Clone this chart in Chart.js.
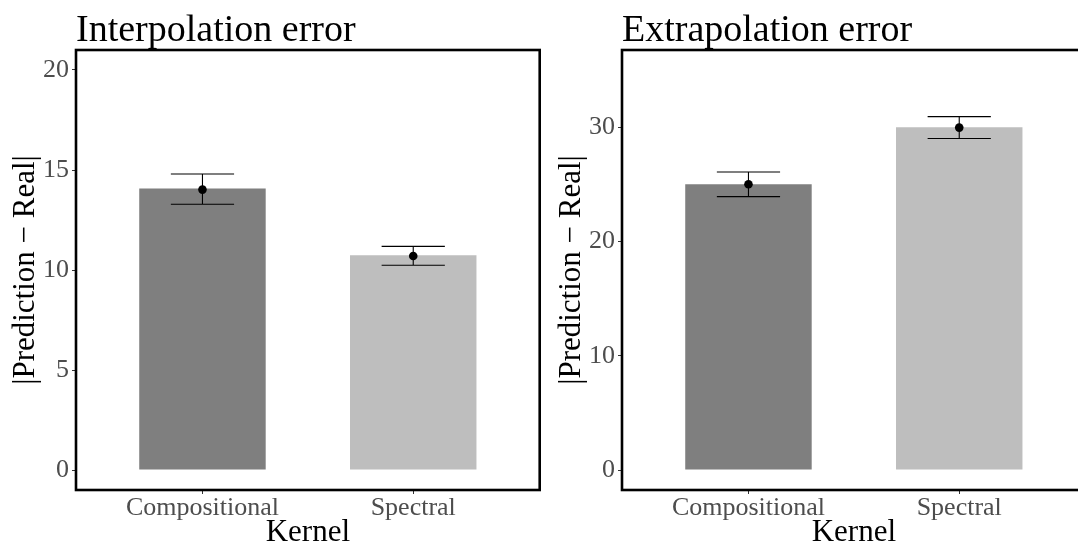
<!DOCTYPE html>
<html><head><meta charset="utf-8">
<script src="https://cdn.jsdelivr.net/npm/chart.js@4.4.1/dist/chart.umd.min.js"></script>
<style>
html,body{margin:0;padding:0;background:#fff;overflow:hidden;width:1078px;height:542px;}
.panel{position:absolute;top:0;}
#p1{left:0;} #p2{left:546px;}
</style></head><body>
<div class="panel" id="p1"><canvas id="c1" width="544" height="560"></canvas></div>
<div class="panel" id="p2"><canvas id="c2" width="544" height="560"></canvas></div>
<script>
// ---- data ----
const categories = ['Compositional', 'Spectral'];
const barColors = ['#7f7f7f', '#bebebe'];

const interpBars  = [14.07, 10.74];
const interpMeans = [14.02, 10.70];
const interpLow   = [13.29, 10.24];
const interpHigh  = [14.80, 11.18];
const interpTicks = [0, 5, 10, 15, 20];

const extrapBars  = [25.00, 29.98];
const extrapMeans = [25.00, 29.96];
const extrapLow   = [23.92, 29.00];
const extrapHigh  = [26.07, 30.92];
const extrapTicks = [0, 10, 20, 30];

Chart.defaults.font.family = '"Liberation Serif", "Times New Roman", serif';

const errorBarPlugin = {
  id: 'errorBars',
  beforeDatasetDraw(chart, args, opts) {
    if (args.index !== 1) return;
    const {ctx, scales: {x, y}} = chart;
    ctx.save();
    ctx.strokeStyle = '#000';
    ctx.lineWidth = 1.1;
    opts.low.forEach((lo, i) => {
      const hi = opts.high[i];
      const cx = x.getPixelForValue(i + 1);
      const xl = x.getPixelForValue(i + 1 - opts.halfWidth);
      const xr = x.getPixelForValue(i + 1 + opts.halfWidth);
      const yl = y.getPixelForValue(lo), yh = y.getPixelForValue(hi);
      ctx.beginPath();
      ctx.moveTo(xl, yh); ctx.lineTo(xr, yh);
      ctx.moveTo(xl, yl); ctx.lineTo(xr, yl);
      ctx.moveTo(cx, yl); ctx.lineTo(cx, yh);
      ctx.stroke();
    });
    ctx.restore();
  }
};

const borderPlugin = {
  id: 'panelBorder',
  afterDraw(chart) {
    const {ctx, chartArea: a} = chart;
    ctx.save();
    ctx.strokeStyle = '#000';
    ctx.lineWidth = 2.6;
    ctx.strokeRect(a.left, a.top, a.right - a.left, a.bottom - a.top);
    ctx.restore();
  }
};

function makeChart(id, title, bars, means, low, high, ticks, yMin, yMax) {
  const gridCfg = {drawOnChartArea: false, drawTicks: true, tickLength: 4, tickColor: '#333333', lineWidth: 1, offset: false};
  return new Chart(document.getElementById(id), {
    type: 'bar',
    data: {
      datasets: [
        {
          type: 'bar',
          order: 2,
          data: categories.map((c, i) => ({x: i + 1, y: bars[i]})),
          backgroundColor: barColors,
          borderWidth: 0,
          categoryPercentage: 1,
          barPercentage: 0.6
        },
        {
          type: 'scatter',
          order: 1,
          data: categories.map((c, i) => ({x: i + 1, y: means[i]})),
          pointRadius: 4.3,
          pointBackgroundColor: '#000',
          pointBorderWidth: 0,
          showLine: false
        }
      ]
    },
    options: {
      responsive: false,
      animation: false,
      devicePixelRatio: 1,
      events: [],
      layout: {padding: {left: 0, right: 4, top: 0, bottom: 0}},
      plugins: {
        legend: {display: false},
        tooltip: {enabled: false},
        title: {
          display: true, text: title, align: 'start', fullSize: false, color: '#000',
          font: {size: 38, weight: 'normal', lineHeight: 1},
          padding: {top: 12, bottom: 0}
        },
        errorBars: {low: low, high: high, halfWidth: 0.15}
      },
      scales: {
        x: {
          type: 'linear', min: 0.4, max: 2.6, offset: false,
          afterBuildTicks: s => { s.ticks = categories.map((c, i) => ({value: i + 1})); },
          afterFit: s => { s.height = 70; },
          ticks: {
            autoSkip: false, maxRotation: 0, minRotation: 0, color: '#4d4d4d',
            font: {size: 26, lineHeight: 0.8}, padding: 4,
            callback: v => categories[Math.round(v) - 1]
          },
          grid: gridCfg,
          border: {display: false},
          title: {display: true, text: 'Kernel', color: '#000', font: {size: 31, lineHeight: 1}, padding: {top: 0, bottom: 11.5}}
        },
        y: {
          type: 'linear', min: yMin, max: yMax,
          afterBuildTicks: s => { s.ticks = ticks.map(v => ({value: v})); },
          afterFit: s => { s.width = 76; },
          ticks: {autoSkip: false, color: '#4d4d4d', font: {size: 26, lineHeight: 1}, padding: 3},
          grid: gridCfg,
          border: {display: false},
          title: {display: true, text: '|Prediction \u2212 Real|', color: '#000', font: {size: 31, lineHeight: 1}, padding: {top: 10.5, bottom: 0}}
        }
      }
    },
    plugins: [errorBarPlugin, borderPlugin]
  });
}

makeChart('c1', 'Interpolation error', interpBars, interpMeans, interpLow, interpHigh, interpTicks, -1, 21);
makeChart('c2', 'Extrapolation error', extrapBars, extrapMeans, extrapLow, extrapHigh, extrapTicks, -1.75, 36.75);
</script>
</body></html>
